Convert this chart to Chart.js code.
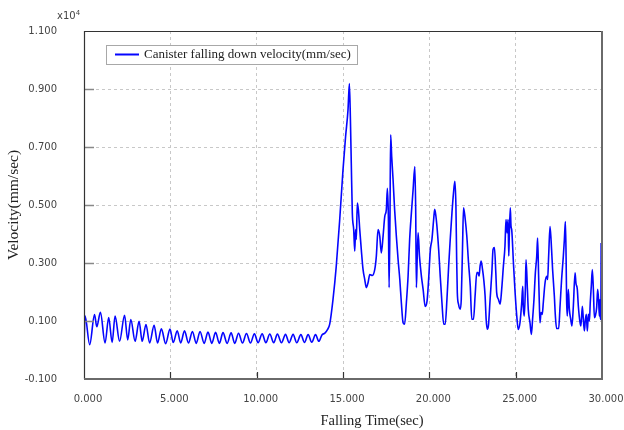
<!DOCTYPE html>
<html>
<head>
<meta charset="utf-8">
<script src="https://cdn.jsdelivr.net/npm/chart.js@4/dist/chart.umd.min.js"></script>
<style>
  html, body { margin: 0; padding: 0; background: #fff; }
  #wrap { width: 624px; height: 430px; position: relative; }
</style>
</head>
<body>
<div id="wrap"><canvas id="c" width="624" height="430"></canvas></div>
<script>
// ---- data (velocity in units of x10^4 mm/sec) ----
const seriesLabel = "Canister falling down velocity(mm/sec)";
const times = [
  0, 0.06, 0.33, 0.61, 0.74, 0.95, 1.22, 1.43, 1.63, 1.80, 2.06, 2.35, 2.53, 2.71, 2.96, 3.19, 3.37, 3.59, 3.80, 4.06,
  4.26, 4.48, 4.73, 4.98, 5.17, 5.40, 5.60, 5.82, 6.05, 6.28, 6.50, 6.72, 6.96, 7.18, 7.40, 7.62, 7.84, 8.05, 8.29, 8.52,
  8.73, 8.95, 9.18, 9.41, 9.64, 9.87, 10.08, 10.32, 10.53, 10.76, 10.99, 11.20, 11.44, 11.67, 11.88, 12.11, 12.32, 12.56, 12.77, 12.98,
  13.19, 13.41, 13.60, 13.78, 13.95, 14.10, 14.23, 14.42, 14.61, 14.81, 15.00, 15.15, 15.29, 15.37, 15.43, 15.48, 15.54, 15.62, 15.68, 15.73,
  15.77, 15.83, 15.89, 15.97, 16.06, 16.16, 16.26, 16.35, 16.45, 16.55, 16.70, 16.84, 16.93, 17.03, 17.13, 17.22, 17.32, 17.42, 17.51, 17.57,
  17.63, 17.67, 17.72, 17.76, 17.82, 17.90, 17.99, 18.09, 18.19, 18.29, 18.38, 18.48, 18.57, 18.67, 18.77, 18.86, 18.96, 19.06, 19.16, 19.21,
  19.25, 19.30, 19.35, 19.43, 19.54, 19.64, 19.76, 19.87, 19.96, 20.06, 20.15, 20.25, 20.31, 20.38, 20.44, 20.54, 20.63, 20.73, 20.83, 20.92,
  21.02, 21.12, 21.21, 21.31, 21.40, 21.48, 21.54, 21.58, 21.62, 21.69, 21.79, 21.85, 21.92, 21.98, 22.08, 22.17, 22.27, 22.37, 22.46, 22.56,
  22.65, 22.75, 22.81, 22.88, 22.94, 23.00, 23.08, 23.15, 23.23, 23.29, 23.35, 23.42, 23.52, 23.62, 23.69, 23.77, 23.85, 23.90, 24.00, 24.10,
  24.19, 24.29, 24.38, 24.44, 24.50, 24.56, 24.60, 24.63, 24.69, 24.73, 24.77, 24.87, 24.96, 25.06, 25.15, 25.25, 25.35, 25.41, 25.44, 25.50,
  25.56, 25.60, 25.68, 25.73, 25.83, 25.91, 25.98, 26.06, 26.14, 26.22, 26.27, 26.33, 26.37, 26.41, 26.47, 26.54, 26.60, 26.70, 26.80, 26.85,
  26.91, 26.99, 27.08, 27.14, 27.24, 27.30, 27.37, 27.49, 27.57, 27.66, 27.76, 27.82, 27.88, 27.92, 27.95, 27.99, 28.05, 28.11, 28.19, 28.26,
  28.34, 28.44, 28.49, 28.57, 28.63, 28.73, 28.78, 28.86, 28.92, 28.98, 29.03, 29.09, 29.15, 29.21, 29.27, 29.32, 29.38, 29.44, 29.50, 29.56,
  29.61, 29.69, 29.75, 29.81, 29.85, 29.88, 29.91, 29.935, 29.95
];
const velocity = [
  0.012, 0.118, 0.018, 0.122, 0.080, 0.130, 0.024, 0.112, 0.026, 0.117, 0.030, 0.120, 0.035, 0.105, 0.030, 0.099, 0.030, 0.088, 0.024, 0.085,
  0.024, 0.073, 0.022, 0.072, 0.026, 0.066, 0.024, 0.066, 0.024, 0.064, 0.023, 0.064, 0.023, 0.062, 0.023, 0.061, 0.023, 0.060, 0.023, 0.059,
  0.023, 0.058, 0.024, 0.057, 0.024, 0.056, 0.025, 0.056, 0.025, 0.055, 0.025, 0.055, 0.025, 0.054, 0.025, 0.054, 0.025, 0.053, 0.026, 0.053,
  0.027, 0.053, 0.030, 0.052, 0.058, 0.070, 0.089, 0.174, 0.289, 0.450, 0.621, 0.736, 0.828, 0.919, 0.793, 0.644, 0.472, 0.415, 0.341, 0.415,
  0.381, 0.507, 0.484, 0.415, 0.346, 0.278, 0.243, 0.215, 0.232, 0.260, 0.257, 0.278, 0.323, 0.415, 0.392, 0.335, 0.392, 0.461, 0.484, 0.558,
  0.450, 0.215, 0.450, 0.742, 0.667, 0.587, 0.484, 0.392, 0.312, 0.243, 0.163, 0.094, 0.089, 0.163, 0.255, 0.381, 0.472, 0.553, 0.633, 0.484,
  0.215, 0.323, 0.404, 0.323, 0.255, 0.209, 0.150, 0.170, 0.244, 0.347, 0.381, 0.450, 0.485, 0.462, 0.427, 0.347, 0.255, 0.164, 0.089, 0.089,
  0.175, 0.290, 0.381, 0.473, 0.542, 0.582, 0.496, 0.324, 0.198, 0.158, 0.141, 0.175, 0.347, 0.490, 0.450, 0.393, 0.301, 0.221, 0.106, 0.106,
  0.186, 0.267, 0.267, 0.255, 0.290, 0.307, 0.278, 0.244, 0.186, 0.106, 0.072, 0.083, 0.175, 0.267, 0.347, 0.353, 0.267, 0.198, 0.175, 0.158,
  0.209, 0.290, 0.358, 0.450, 0.404, 0.450, 0.324, 0.393, 0.490, 0.427, 0.415, 0.301, 0.205, 0.120, 0.071, 0.094, 0.163, 0.220, 0.151, 0.117,
  0.209, 0.311, 0.209, 0.140, 0.094, 0.054, 0.106, 0.174, 0.266, 0.323, 0.386, 0.254, 0.163, 0.094, 0.129, 0.123, 0.163, 0.231, 0.254, 0.243,
  0.323, 0.426, 0.346, 0.277, 0.186, 0.117, 0.074, 0.074, 0.151, 0.243, 0.323, 0.380, 0.443, 0.323, 0.174, 0.117, 0.209, 0.140, 0.106, 0.083,
  0.151, 0.266, 0.231, 0.209, 0.151, 0.094, 0.083, 0.151, 0.106, 0.066, 0.100, 0.123, 0.066, 0.123, 0.100, 0.163, 0.220, 0.277, 0.209, 0.111,
  0.117, 0.146, 0.209, 0.163, 0.117, 0.174, 0.111, 0.105, 0.369
];
const xTickValues = [0, 5, 10, 15, 20, 25, 30];
const yTickValues = [-0.1, 0.1, 0.3, 0.5, 0.7, 0.9, 1.1];
const xTitle = "Falling Time(sec)";
const yTitle = "Velocity(mm/sec)";
const yExponent = ["x10", "4"];

const points = times.map((t, i) => ({ x: t, y: velocity[i] }));

const decor = {
  id: 'decor',
  afterDatasetsDraw(chart) {
    const ctx = chart.ctx;
    const a = chart.chartArea;
    const xs = chart.scales.x, ys = chart.scales.y;
    ctx.save();
    // inner tick marks
    ctx.strokeStyle = '#888';
    ctx.lineWidth = 1.5;
    yTickValues.slice(1, -1).forEach(v => {
      const y = Math.round(ys.getPixelForValue(v)) + 0.5;
      ctx.beginPath(); ctx.moveTo(a.left, y); ctx.lineTo(a.left + 10, y); ctx.stroke();
    });
    ctx.strokeStyle = '#333';
    ctx.lineWidth = 1.2;
    xTickValues.slice(1, -1).forEach(v => {
      const x = Math.round(xs.getPixelForValue(v)) + 0.5;
      ctx.beginPath(); ctx.moveTo(x, a.bottom); ctx.lineTo(x, a.bottom - 7); ctx.stroke();
    });
    // frame
    ctx.strokeStyle = '#333';
    ctx.lineWidth = 1.2;
    ctx.beginPath();
    ctx.moveTo(a.left + 0.5, a.bottom); ctx.lineTo(a.left + 0.5, a.top + 0.5); ctx.lineTo(a.right, a.top + 0.5);
    ctx.stroke();
    ctx.strokeStyle = '#6a6a6a';
    ctx.lineWidth = 2;
    ctx.beginPath();
    ctx.moveTo(a.right, a.top); ctx.lineTo(a.right, a.bottom); ctx.lineTo(a.left, a.bottom);
    ctx.stroke();

    // legend
    const ds = chart.data.datasets[0];
    const lx = 106.5, ly = 45.5, lw = 251, lh = 19;
    ctx.fillStyle = '#fff';
    ctx.fillRect(lx, ly, lw, lh);
    ctx.strokeStyle = '#a8a8a8';
    ctx.lineWidth = 1;
    ctx.strokeRect(lx, ly, lw, lh);
    ctx.strokeStyle = ds.borderColor;
    ctx.lineWidth = 2;
    ctx.beginPath(); ctx.moveTo(115, 54.5); ctx.lineTo(139, 54.5); ctx.stroke();
    ctx.fillStyle = '#222';
    ctx.font = '13px "Liberation Serif"';
    ctx.textBaseline = 'middle';
    ctx.textAlign = 'left';
    ctx.fillText(ds.label, 144, 55);

    // axis titles
    ctx.font = '14.5px "Liberation Serif"';
    ctx.fillStyle = '#222';
    ctx.textAlign = 'center';
    ctx.fillText(xTitle, 372, 421);
    ctx.save();
    ctx.translate(14, 205);
    ctx.rotate(-Math.PI / 2);
    ctx.font = '15.5px "Liberation Serif"';
    ctx.fillText(yTitle, 0, 0);
    ctx.restore();

    // exponent
    ctx.fillStyle = '#444';
    ctx.textAlign = 'left';
    ctx.textBaseline = 'alphabetic';
    ctx.font = '10px "DejaVu Sans"';
    ctx.fillText(yExponent[0], 57, 19);
    const w = ctx.measureText(yExponent[0]).width;
    ctx.font = '7px "DejaVu Sans"';
    ctx.fillText(yExponent[1], 57 + w, 15);
    ctx.restore();
  }
};

new Chart(document.getElementById('c'), {
  type: 'scatter',
  data: {
    datasets: [{
      label: seriesLabel,
      data: points,
      showLine: true,
      borderColor: '#0505ff',
      backgroundColor: '#0505ff',
      borderWidth: 1.6,
      pointRadius: 0,
      cubicInterpolationMode: 'monotone'
    }]
  },
  options: {
    responsive: false,
    animation: false,
    devicePixelRatio: 1,
    layout: { padding: { top: 31, right: 22, left: 0, bottom: 0 } },
    plugins: { legend: { display: false }, tooltip: { enabled: false } },
    scales: {
      x: {
        type: 'linear',
        min: 0, max: 30,
        afterFit(s) { s.height = 51; s.paddingLeft = 0; s.paddingRight = 0; },
        afterBuildTicks(s) { s.ticks = xTickValues.map(v => ({ value: v })); },
        ticks: {
          padding: 14,
          labelOffset: 4,
          color: '#444',
          font: { family: 'DejaVu Sans', size: 10 },
          maxRotation: 0,
          callback: v => Number(v).toFixed(3)
        },
        grid: {
          color: '#c8c8c8',
          lineWidth: 1,
          drawTicks: false
        },
        border: { display: false, dash: [3, 3] }
      },
      y: {
        type: 'linear',
        min: -0.1, max: 1.1,
        afterFit(s) { s.width = 84; s.paddingTop = 0; s.paddingBottom = 0; },
        afterBuildTicks(s) { s.ticks = yTickValues.map(v => ({ value: v })); },
        ticks: {
          padding: 27,
          color: '#444',
          font: { family: 'DejaVu Sans', size: 10 },
          callback: v => Number(v).toFixed(3)
        },
        grid: {
          color: '#c8c8c8',
          lineWidth: 1,
          drawTicks: false
        },
        border: { display: false, dash: [3, 3] }
      }
    }
  },
  plugins: [decor]
});
</script>
</body>
</html>
